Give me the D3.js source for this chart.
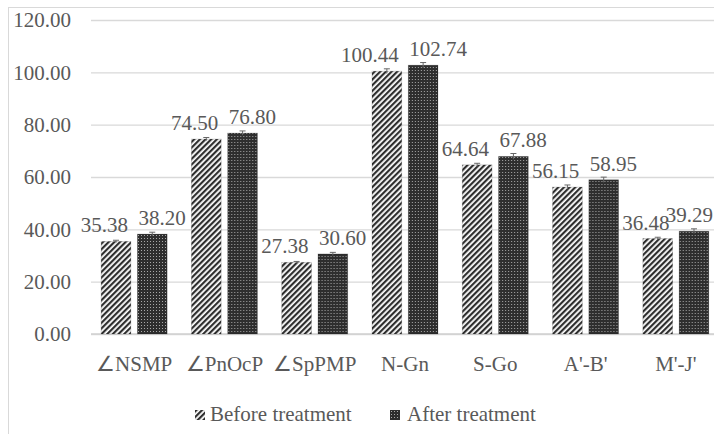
<!DOCTYPE html>
<html>
<head>
	<meta charset="utf-8">
	<style>
		body { margin: 0; background: #fff; }
	</style>
</head>
<body>
	<script src="https://cdn.jsdelivr.net/npm/d3@7/dist/d3.min.js"></script>

	<script>
		const categories = ['∠NSMP', '∠PnOcP', '∠SpPMP', 'N-Gn', 'S-Go', "A'-B'", "M'-J'"];
		const seriesNames = ['Before treatment', 'After treatment'];
		const beforeValues = [35.38, 74.50, 27.38, 100.44, 64.64, 56.15, 36.48];
		const afterValues  = [38.20, 76.80, 30.60, 102.74, 67.88, 58.95, 39.29];
		const beforeErrors = [0.45, 0.6, 0.35, 0.9, 0.6, 0.8, 0.5];
		const afterErrors  = [0.7, 0.8, 0.6, 1.0, 1.1, 1.0, 0.9];
		const yTicks = [0, 20, 40, 60, 80, 100, 120];

		const W = 714;
		const H = 434;
		const FONT = "'Liberation Serif', 'Times New Roman', serif";

		const svg = d3.select('body')
			.append('svg')
			.attr('width', W)
			.attr('height', H)
			.style('font-family', FONT);

		// hatch patterns
		const defs = svg.append('defs');
		const diag = defs.append('pattern')
			.attr('id', 'diag')
			.attr('patternUnits', 'userSpaceOnUse')
			.attr('width', 4).attr('height', 4)
			.attr('patternTransform', 'rotate(45)');
		diag.append('rect').attr('width', 4).attr('height', 4).attr('fill', '#fff');
		diag.append('rect').attr('width', 2.2).attr('height', 4).attr('fill', '#2e2e2e');

		const dots = defs.append('pattern')
			.attr('id', 'dots')
			.attr('patternUnits', 'userSpaceOnUse')
			.attr('width', 3).attr('height', 3);
		dots.append('rect').attr('width', 3).attr('height', 3).attr('fill', '#2e2e2e');
		dots.append('rect').attr('x', 1).attr('y', 1).attr('width', 1).attr('height', 1).attr('fill', '#a8a8a8');

		const patterns = ['url(#diag)', 'url(#dots)'];

		// chart border
		svg.append('rect')
			.attr('x', 8.5).attr('y', 7.5)
			.attr('width', 730).attr('height', 440)
			.attr('fill', 'none')
			.attr('stroke', '#d9d9d9');

		const x0 = d3.scaleBand()
			.domain(categories)
			.range([89, 721])
			.padding(0);

		const x1 = d3.scaleBand()
			.domain(seriesNames)
			.range([x0.bandwidth() / 2 - 33, x0.bandwidth() / 2 + 33])
			.paddingInner(0.18);

		const y = d3.scaleLinear()
			.domain([0, 120])
			.range([334, 20]);

		// gridlines
		const yAxis = d3.axisLeft(y)
			.tickValues(yTicks)
			.tickSize(-(W - 91))
			.tickPadding(20)
			.tickFormat(d3.format('.2f'));

		const gy = svg.append('g')
			.attr('transform', 'translate(91,0)')
			.call(yAxis);
		gy.attr('font-family', null).attr('font-size', null);
		gy.select('.domain').remove();
		gy.selectAll('.tick line').attr('stroke', '#d9d9d9').attr('stroke-width', 1.3);
		gy.selectAll('.tick text')
			.attr('x', -20)
			.style('font-size', '21px')
			.attr('fill', '#595959');

		// category axis
		const xAxis = d3.axisBottom(x0).tickSize(0).tickPadding(22);
		const gx = svg.append('g')
			.attr('transform', 'translate(0,334)')
			.call(xAxis);
		gx.attr('font-family', null).attr('font-size', null);
		gx.select('.domain').attr('stroke', '#d0d0d0').attr('stroke-width', 1.3)
			.attr('d', `M91,0H${W}`);
		gx.selectAll('.tick text')
			.style('font-size', '21px')
			.attr('fill', '#595959');

		const rows = categories.map((c, i) => ({
			cat: c,
			vals: [
				{ s: seriesNames[0], v: beforeValues[i], e: beforeErrors[i], k: 0 },
				{ s: seriesNames[1], v: afterValues[i], e: afterErrors[i], k: 1 }
			]
		}));

		const groups = svg.append('g')
			.selectAll('g')
			.data(rows)
			.join('g')
			.attr('transform', d => `translate(${x0(d.cat)},0)`);

		groups.selectAll('rect')
			.data(d => d.vals)
			.join('rect')
			.attr('x', d => x1(d.s))
			.attr('y', d => y(d.v))
			.attr('width', x1.bandwidth())
			.attr('height', d => y(0) - y(d.v))
			.attr('fill', d => patterns[d.k])
			.attr('stroke', 'rgba(0,0,0,0.18)')
			.attr('stroke-width', 0.8);

		// error bars
		const eb = groups.selectAll('g.err')
			.data(d => d.vals)
			.join('g')
			.attr('class', 'err')
			.attr('stroke', '#666')
			.attr('stroke-width', 1);
		eb.append('line')
			.attr('x1', d => x1(d.s) + x1.bandwidth() / 2)
			.attr('x2', d => x1(d.s) + x1.bandwidth() / 2)
			.attr('y1', d => y(d.v - d.e))
			.attr('y2', d => y(d.v + d.e));
		eb.append('line')
			.attr('x1', d => x1(d.s) + x1.bandwidth() / 2 - 3)
			.attr('x2', d => x1(d.s) + x1.bandwidth() / 2 + 3)
			.attr('y1', d => y(d.v + d.e))
			.attr('y2', d => y(d.v + d.e));

		// value labels
		groups.selectAll('text.val')
			.data(d => d.vals)
			.join('text')
			.attr('class', 'val')
			.attr('x', d => d.k === 0 ? x1(d.s) + x1.bandwidth() - 3 : x1(d.s) + 1)
			.attr('y', d => y(d.v) - 9)
			.attr('text-anchor', d => d.k === 0 ? 'end' : 'start')
			.style('font-size', '21px')
			.attr('fill', '#595959')
			.text(d => d3.format('.2f')(d.v));

		// keep labels inside the frame
		svg.selectAll('text.val').each(function () {
			const r = this.getBoundingClientRect();
			if (r.right > W - 1) {
				const t = d3.select(this);
				t.attr('x', +t.attr('x') - (r.right - (W - 1)));
			}
		});

		// legend
		const legendX = [195, 390];
		const legend = svg.append('g')
			.selectAll('g')
			.data(seriesNames)
			.join('g')
			.attr('transform', (d, i) => `translate(${legendX[i]},410)`);
		legend.append('rect')
			.attr('width', 10).attr('height', 10)
			.attr('fill', (d, i) => patterns[i]);
		legend.append('text')
			.attr('x', (d, i) => i === 0 ? 15 : 17)
			.attr('y', 11)
			.style('font-size', '21px')
			.attr('fill', '#595959')
			.text(d => d);
	</script>

</body>
</html>
